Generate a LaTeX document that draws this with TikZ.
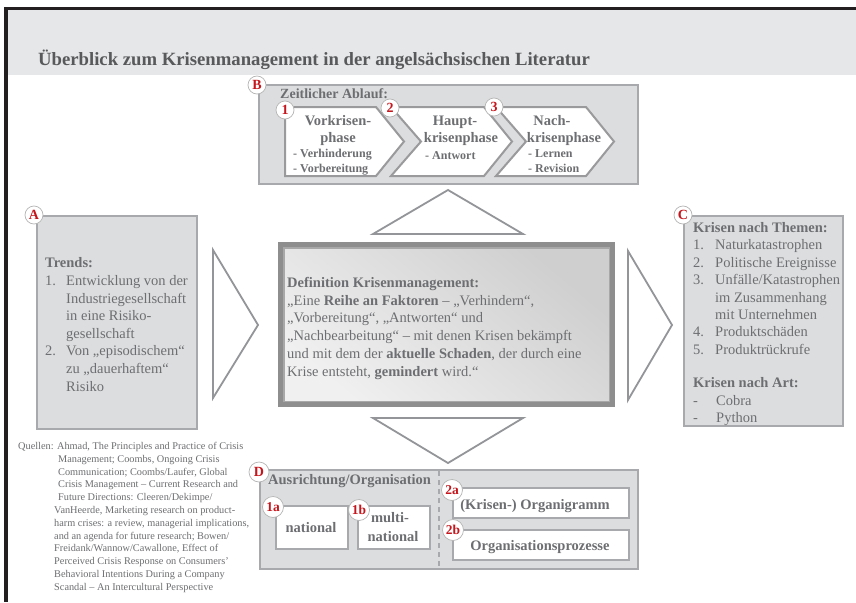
\documentclass[tikz,border=0pt]{standalone}
\usepackage{fontspec}
\setmainfont{Liberation Serif}
\usetikzlibrary{calc}

\definecolor{headfill}{HTML}{E6E7E8}
\definecolor{framedark}{HTML}{231F20}
\definecolor{panelfill}{HTML}{DCDDDE}
\definecolor{panelline}{HTML}{A7A9AC}
\definecolor{chevline}{HTML}{9A9A9C}
\definecolor{triline}{HTML}{939598}
\definecolor{bodygray}{HTML}{6D6E71}
\definecolor{titlegray}{HTML}{58595B}
\definecolor{badgered}{HTML}{C4161C}
\definecolor{badgeline}{HTML}{B5B5B5}
\definecolor{coreband}{HTML}{8E8E8E}
\definecolor{coreinner}{HTML}{A8A8A8}

\begin{document}
\begin{tikzpicture}[x=1pt,y=-1pt,
  panel/.style={draw=panelline, line width=2pt, fill=panelfill, inner sep=0pt, anchor=north west},
  whitebox/.style={draw=panelline, line width=1.8pt, fill=white, inner sep=0pt, anchor=north west},
  chev/.style={draw=chevline, line width=2pt, fill=white, line join=miter},
  tri/.style={draw=triline, line width=1.8pt, fill=white, line join=miter},
  badge/.style={circle, draw=badgeline, line width=0.7pt, fill=white, inner sep=0pt,
    minimum size=18pt, text=badgered, font=\bfseries\fontsize{14}{14}\selectfont},
  smallbadge/.style={badge, minimum size=21pt, font=\bfseries\fontsize{13.5}{13.5}\selectfont},
  body/.style={text=bodygray, inner sep=0pt, align=left, anchor=base west,
    font=\fontsize{14.5}{17.6}\selectfont},
  head/.style={text=bodygray, inner sep=0pt, anchor=base, font=\bfseries\fontsize{14.5}{14.5}\selectfont},
  sub/.style={text=bodygray, inner sep=0pt, anchor=base west, font=\bfseries\fontsize{12}{12}\selectfont},
  srcs/.style={text=bodygray, inner sep=0pt, anchor=base west, font=\fontsize{10.3}{10.3}\selectfont}
]
\useasboundingbox (0,0) rectangle (856,602);
\fill[white] (0,0) rectangle (856,602);

% header band and frame
\fill[headfill] (8,10) rectangle (856,75);
\fill[framedark] (4,7) rectangle (856,10);
\fill[framedark] (4,7) rectangle (8,602);
\node[text=titlegray, inner sep=0pt, anchor=base west, font=\bfseries\fontsize{18.7}{18.7}\selectfont]
  (title) at (38,66) {Überblick zum Krisenmanagement in der angelsächsischen Literatur};

% ---------- B: time line ----------
\node[panel, minimum width=379pt, minimum height=99pt] (B) at (258,84) {};
\node[text=bodygray, inner sep=0pt, anchor=base west, font=\bfseries\fontsize{14}{14}\selectfont]
  (Bhead) at (280,98) {Zeitlicher Ablauf:};

\draw[chev] (285,107) -- (376,107) -- (404,141.5) -- (376,176) -- (285,176) -- cycle;
\draw[chev] (391,107) -- (484,107) -- (512,141.5) -- (484,176) -- (391,176) -- (421,141.5) -- cycle;
\draw[chev] (496,107) -- (586,107) -- (614,141.5) -- (586,176) -- (496,176) -- (526,141.5) -- cycle;

\node[head] (p1a) at (338,125) {Vorkrisen-};
\node[head] (p1b) at (338,142) {phase};
\node[sub] (p1c) at (293,157) {- Verhinderung};
\node[sub] (p1d) at (293,172) {- Vorbereitung};

\node[head] (p2a) at (455,125) {Haupt-};
\node[head] (p2b) at (461,142) {krisenphase};
\node[sub] (p2c) at (425,159) {- Antwort};

\node[head] (p3a) at (552,125) {Nach-};
\node[head] (p3b) at (564,142) {krisenphase};
\node[sub] (p3c) at (528,157) {- Lernen};
\node[sub] (p3d) at (528,172) {- Revision};

\node[badge] (bB) at (257,85) {B};
\node[badge] (b1) at (285,110) {1};
\node[badge] (b2) at (390,108) {2};
\node[badge] (b3) at (494,107) {3};

% ---------- triangles around the core ----------
\draw[tri] (373,234) -- (448,190) -- (523,234) -- cycle;
\draw[tri] (373,418) -- (448,463) -- (523,418) -- cycle;
\draw[tri] (213,250) -- (258,325) -- (213,398) -- cycle;
\draw[tri] (628,251) -- (672,325) -- (628,400) -- cycle;

% ---------- A: trends (anchored at the last baseline) ----------
\node[panel, minimum width=160pt, minimum height=213pt] (A) at (36,215) {};
\node[body] (Atext) at (45,391) {\textbf{Trends:}\\
\makebox[21pt][l]{1.}Entwicklung von der\\
\hspace*{21pt}Industriegesellschaft\\
\hspace*{21pt}in eine Risiko-\\
\hspace*{21pt}gesellschaft\\
\makebox[21pt][l]{2.}Von „episodischem“\\
\hspace*{21pt}zu „dauerhaftem“\\
\hspace*{21pt}Risiko};
\node[badge] (bA) at (34,215) {A};

% ---------- C: crisis types (anchored at the last baseline) ----------
\node[panel, minimum width=159pt, minimum height=210pt] (C) at (683,215) {};
\node[body, font=\fontsize{14.5}{17.4}\selectfont] (Ctext) at (693,422.5) {\textbf{Krisen nach Themen:}\\
\makebox[22pt][l]{1.}Naturkatastrophen\\
\makebox[22pt][l]{2.}Politische Ereignisse\\
\makebox[22pt][l]{3.}Unfälle/Katastrophen\\
\hspace*{22pt}im Zusammenhang\\
\hspace*{22pt}mit Unternehmen\\
\makebox[22pt][l]{4.}Produktschäden\\
\makebox[22pt][l]{5.}Produktrückrufe\\[16pt]
\textbf{Krisen nach Art:}\\
\makebox[23pt][l]{-}Cobra\\
\makebox[23pt][l]{-}Python};
\node[badge] (bC) at (683,215) {C};

% ---------- core definition ----------
\node[fill=coreband, inner sep=0pt, minimum width=337pt, minimum height=165pt, anchor=north west]
  (core) at (278,242) {};
\shade[top color=black!19, bottom color=black!6, shading angle=-40]
  ($(core.north west)+(6,6)$) rectangle ($(core.south east)+(-6,-6)$);
\draw[coreinner, line width=1.6pt]
  ($(core.north west)+(6,6)$) rectangle ($(core.south east)+(-6,-6)$);
\node[body, font=\fontsize{14.5}{17.7}\selectfont] (coretext) at (287,376) {\textbf{Definition Krisenmanagement:}\\
„Eine \textbf{Reihe an Faktoren} – „Verhindern“,\\
„Vorbereitung“, „Antworten“ und\\
„Nachbearbeitung“ – mit denen Krisen bekämpft\\
und mit dem der \textbf{aktuelle Schaden}, der durch eine\\
Krise entsteht, \textbf{gemindert} wird.“};

% ---------- D: organisation ----------
\node[panel, minimum width=378pt, minimum height=99pt] (D) at (259,469) {};
\draw[panelline, line width=1.3pt, dash pattern=on 5pt off 4pt] (439,471) -- (439,567);
\node[text=bodygray, inner sep=0pt, anchor=base west, font=\bfseries\fontsize{14.5}{14.5}\selectfont]
  (Dhead) at (268,484) {Ausrichtung/Organisation};

\node[whitebox, minimum width=72pt, minimum height=43pt] (o1a) at (275,505) {};
\node[whitebox, minimum width=72pt, minimum height=43pt] (o1b) at (357,505) {};
\node[whitebox, minimum width=176pt, minimum height=30pt] (o2a) at (452,487) {};
\node[whitebox, minimum width=176pt, minimum height=30pt] (o2b) at (452,529) {};

\node[head] (t1a) at (311,532) {national};
\node[head] (t1b) at (390,522) {multi-};
\node[head] (t1c) at (393,541) {national};
\node[head] (t2a) at (535,509) {(Krisen-) Organigramm};
\node[head] (t2b) at (540,550) {Organisationsprozesse};

\node[badge, minimum size=20pt] (bD) at (259,472) {D};
\node[smallbadge] (b1a) at (273,507) {1a};
\node[smallbadge] (b1b) at (359,510) {1b};
\node[smallbadge] (b2a) at (452,490) {2a};
\node[smallbadge] (b2b) at (453,530) {2b};

% ---------- sources ----------
\node[srcs] (q1) at (18,449.5) {Quellen: Ahmad, The Principles and Practice of Crisis};
\node[srcs] (q2) at (58,462.3) {Management; Coombs, Ongoing Crisis};
\node[srcs] (q3) at (58,475.1) {Communication; Coombs/Laufer, Global};
\node[srcs] (q4) at (58,487.9) {Crisis Management – Current Research and};
\node[srcs] (q5) at (58,500.7) {Future Directions: Cleeren/Dekimpe/};
\node[srcs] (q6) at (54,513.5) {VanHeerde, Marketing research on product-};
\node[srcs] (q7) at (54,526.3) {harm crises: a review, managerial implications,};
\node[srcs] (q8) at (54,539.1) {and an agenda for future research; Bowen/};
\node[srcs] (q9) at (54,551.9) {Freidank/Wannow/Cawallone, Effect of};
\node[srcs] (q10) at (54,564.7) {Perceived Crisis Response on Consumers'};
\node[srcs] (q11) at (54,577.5) {Behavioral Intentions During a Company};
\node[srcs] (q12) at (54,590.3) {Scandal – An Intercultural Perspective};
\end{tikzpicture}
\end{document}
